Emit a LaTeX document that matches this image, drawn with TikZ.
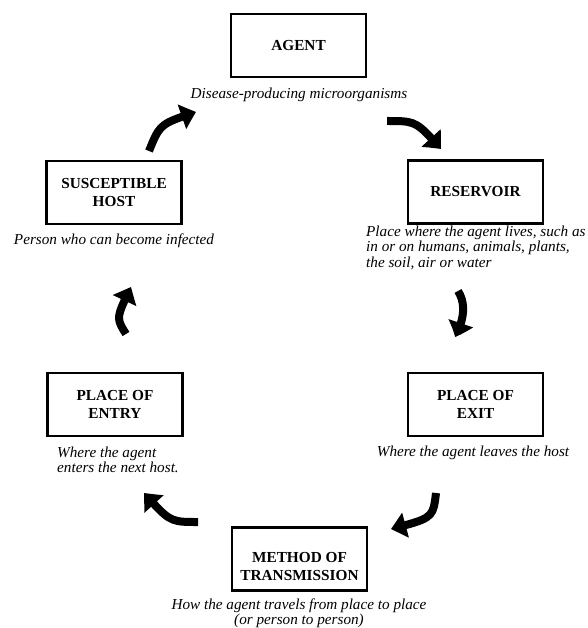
\documentclass[tikz,border=0pt]{standalone}
\usepackage{fontspec}
\setmainfont{Liberation Serif}
\usetikzlibrary{arrows.meta,bending}
\begin{document}
\begin{tikzpicture}[x=1pt,y=-1pt,
  box/.style={draw,line width=2.4pt,minimum width=135pt,minimum height=63pt,inner sep=0pt,align=center,font=\bfseries\fontsize{15.3}{18}\selectfont},
  boxtext/.style={inner sep=0pt,align=center,font=\bfseries\fontsize{15.3}{18}\selectfont},
  captxt/.style={inner sep=0pt,font=\itshape\fontsize{15.2}{15.5}\selectfont},
  cyc/.style={line width=8pt,-{Triangle[length=15pt,width=25pt,bend]}}]
\useasboundingbox (0,0) rectangle (587,628);

% boxes
\node[box] (agent) at (298.5,45.5) {AGENT};
\node[box] (host) at (114,192.5) {SUSCEPTIBLE\\HOST};
\node[box] (res) at (475.5,192) {RESERVOIR};
\node[box] (entry) at (115,404.5) {PLACE OF\\ENTRY};
\node[box] (exit) at (475.5,404.5) {PLACE OF\\EXIT};
\node[box] (method) at (299.5,559) {};
\node[boxtext] (methodtext) at (299.5,567) {METHOD OF\\TRANSMISSION};

% captions
\node[captxt] (agentcap) at (299,95) {Disease-producing microorganisms};
\node[captxt] (hostcap) at (114,241) {Person who can become infected};
\node[captxt,anchor=west,align=left] (rescap) at (366,247.5) {Place where the agent lives, such as\\in or on humans, animals, plants,\\the soil, air or water};
\node[captxt,anchor=west,align=left] (entrycap) at (57,460) {Where the agent\\enters the next host.};
\node[captxt] (exitcap) at (473,453) {Where the agent leaves the host};
\node[captxt,align=center,font=\itshape\fontsize{15.2}{15}\selectfont] (methodcap) at (299,613.5) {How the agent travels from place to place\\(or person to person)};

% arrow end points
\coordinate (a1s) at (149,151); \coordinate (a1e) at (196,112);
\coordinate (a2s) at (387,121); \coordinate (a2e) at (441,149);
\coordinate (a3s) at (458,291); \coordinate (a3e) at (455,337);
\coordinate (a4s) at (436,493); \coordinate (a4e) at (391,529);
\coordinate (a5s) at (198,522); \coordinate (a5e) at (144,493);
\coordinate (a6s) at (126,334); \coordinate (a6e) at (131,287);

% cycle arrows
\draw[cyc] (a1s) .. controls (160,124) .. (a1e);
\draw[cyc] (a2s) .. controls (416,121) .. (a2e);
\draw[cyc] (a3s) .. controls (467,305) and (463,322) .. (a3e);
\draw[cyc] (a4s) .. controls (433,518) .. (a4e);
\draw[cyc] (a5s) .. controls (170,522) .. (a5e);
\draw[cyc] (a6s) .. controls (116,318) .. (a6e);
\end{tikzpicture}
\end{document}
